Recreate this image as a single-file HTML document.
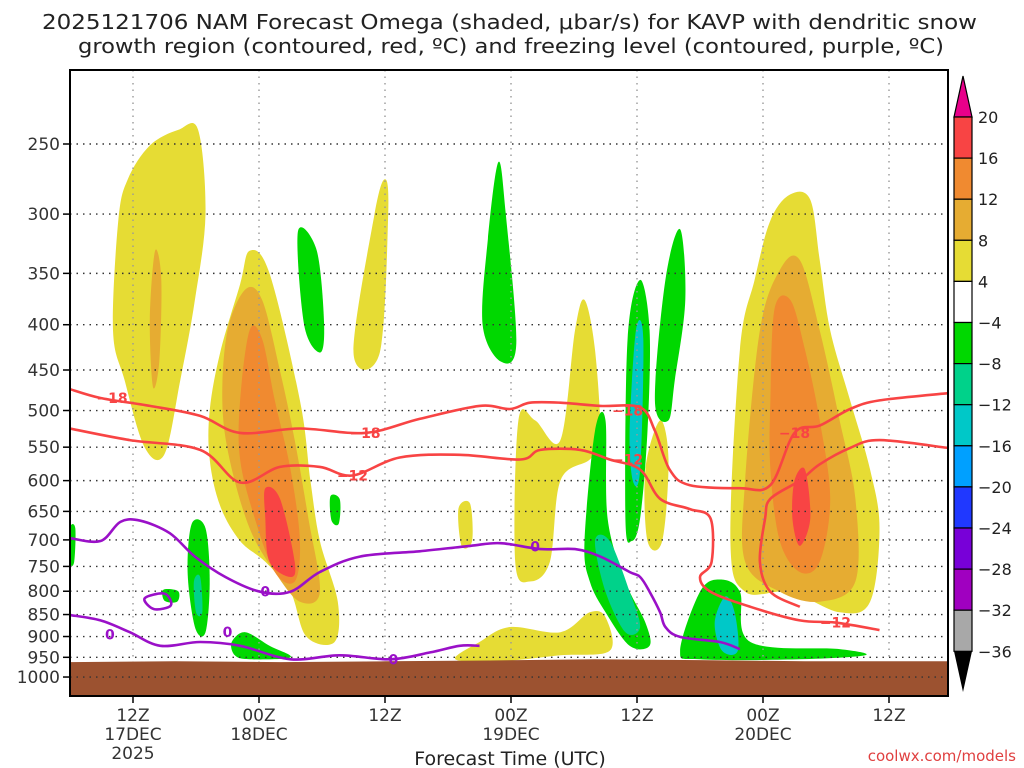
<!DOCTYPE html>
<html><head><meta charset="utf-8"><style>
html,body{margin:0;padding:0;background:#fff;}
svg{display:block;font-family:"DejaVu Sans","Liberation Sans",sans-serif;}
</style></head><body>
<svg id="chart" width="1024" height="768" viewBox="0 0 1024 768">
<g id="title">
<text x="42" y="29" textLength="935" lengthAdjust="spacingAndGlyphs" font-size="20" fill="#222">2025121706 NAM Forecast Omega (shaded, μbar/s) for KAVP with dendritic snow</text>
<text x="78" y="53" textLength="866" lengthAdjust="spacingAndGlyphs" font-size="20" fill="#222">growth region (contoured, red, ºC) and freezing level (contoured, purple, ºC)</text>
</g>
<defs><clipPath id="plotclip"><rect x="70" y="70" width="878" height="626"/></clipPath></defs>
<g id="shade" clip-path="url(#plotclip)"></g>
<g id="grid"></g>
<g id="ground" clip-path="url(#plotclip)"></g>
<g id="contours" clip-path="url(#plotclip)"></g>
<rect x="70" y="70" width="878" height="626" fill="none" stroke="#000" stroke-width="2"/>
<g id="yaxis"></g>
<g id="xaxis"></g>
<text x="510" y="765" text-anchor="middle" font-size="19" fill="#222">Forecast Time (UTC)</text>
<text x="1016" y="761" text-anchor="end" font-size="15" fill="#e04040">coolwx.com/models</text>
<g id="cbar"></g>
</svg>
<script>
// ---- data (hours since 06Z 17 Dec, pressure hPa) ----
const pressureTicks=[250,300,350,400,450,500,550,600,650,700,750,800,850,900,950,1000];
const timeTickHours=[6,18,30,42,54,66,78];
const timeTickLabels=[["12Z","17DEC","2025"],["00Z","18DEC"],["12Z"],["00Z","19DEC"],["12Z"],["00Z","20DEC"],["12Z"]];
const cbarLevels=["20","16","12","8","4","−4","−8","−12","−16","−20","−24","−28","−32","−36"];
const cbarColors=["#f84444","#f08a30","#e6ac32","#e6dc34","#ffffff","#00d800","#00d28a","#00c8c8","#00a0ff","#2038ff","#7800d8","#a000c0","#a8a8a8"];
const yellowBlobs=[
 [[4.1,406],[4.6,305],[5.5,274],[7.6,251],[10.3,241],[12.2,241],[12.9,300],[11.9,375],[10.5,462],[9,560],[7.1,550],[5.2,462]],
 [[13.3,500],[14.3,430],[16.2,360],[17.1,330],[19,350],[21.9,487],[22.9,600],[23.8,702],[25.5,822],[25.2,913],[22.5,900],[21,801],[18.6,741],[16.2,702],[14.3,641],[13.3,568]],
 [[27,430],[29,300],[30,274],[30.3,300],[29.5,430]],
 [[42.4,741],[42.7,513],[44.3,513],[46.7,540],[48.1,406],[49,375],[50,427],[50.5,540],[49.5,568],[46.7,600],[45.7,741],[43.8,780]],
 [[36.7,955],[39,913],[41.9,878],[46.7,890],[49.5,845],[51,856],[51.4,934],[46.7,945],[41,960]],
 [[37,645],[38.1,637],[38.3,702],[37.3,711]],
 [[54.8,583],[56.2,513],[57,568],[56.4,702],[55,702]],
 [[62.9,702],[63.8,427],[65.2,356],[66.7,305],[68.6,285],[70.5,289],[71.4,338],[72.4,406],[74.3,487],[76.2,583],[77.1,679],[76.2,822],[73.3,845],[68.6,801],[64.3,801]]
];
const goldBlobs=[
 [[7.6,394],[8.1,330],[8.7,356],[8.5,440],[7.9,470]],
 [[15,406],[16.7,365],[18.3,375],[20,451],[21.4,540],[22.7,662],[23.8,801],[21.9,822],[19.5,761],[17.1,679],[15.2,568],[14.5,487]],
 [[64.3,600],[65.7,406],[67.6,347],[69.5,338],[71.4,406],[73.3,513],[74.8,629],[74.8,780],[71.4,822],[67.6,801],[64.3,741]]
];
const orangeBlobs=[
 [[16.2,487],[17.1,406],[18.3,415],[19.5,487],[21,583],[21.9,702],[21.4,780],[19.5,761],[17.6,662],[16.2,568]],
 [[66.7,487],[67.1,384],[68.6,375],[70,427],[71.4,513],[72.4,629],[71.4,741],[69.5,761],[67.6,702],[66.7,583]]
];
const redBlobs=[
 [[18.6,612],[20,629],[21.4,741],[21,771],[19,741],[18.6,662]],
 [[69,600],[70,583],[70.5,662],[69.5,711],[68.8,662]]
];
const greenBlobs=[
 [[21.7,314],[23.5,330],[24.2,400],[23.8,430],[22.3,400]],
 [[39.3,400],[39.8,320],[40.8,262],[41.5,300],[42.5,420],[41,440]],
 [[52.9,662],[53.1,415],[54.3,356],[55.2,406],[55,527],[54.3,662],[53.5,702]],
 [[55.7,487],[56.7,356],[58.1,312],[58.6,375],[57.6,462],[57,513]],
 [[49,702],[50,527],[51,513],[51.2,662],[52.9,780],[54.8,868],[55.2,922],[53.3,922],[51,845],[49.5,780]],
 [[58.1,934],[60,801],[61.9,776],[63.8,801],[64.8,913],[73.3,930],[75.7,945],[69.5,955],[60,955]],
 [[11.2,761],[11.6,671],[12.9,679],[13.3,780],[12.9,890],[11.9,878]],
 [[15.4,913],[16.7,890],[19,922],[21,950],[17.1,955],[15.7,945]],
 [[0,679],[0.5,679],[0.4,741],[0,741]],
 [[24.8,625],[25.7,630],[25.6,671],[24.9,665]],
 [[8.9,797],[10.3,800],[10.2,822],[9,820]]
];
const tealBlobs=[
 [[50,702],[51.4,702],[53.3,801],[54.3,878],[52.9,890],[51,801]],
 [[11.8,780],[12.4,771],[12.6,845],[12,845]]
];
const cyanBlobs=[
 [[53.3,527],[53.9,406],[54.6,415],[54.3,583],[53.6,600]],
 [[61.4,868],[62.4,811],[63.3,845],[63.6,934],[62.1,934]]
];
const tempMinus18A=[[0,473],[2.9,484],[7.6,494],[12.4,507],[16.2,530],[21.9,524],[28.1,530],[33.3,511],[39,494],[41.9,498],[43.8,490],[46.7,490],[50.5,494],[54.3,496],[55.7,527],[57.1,583],[59,607],[63.8,612],[66.7,607],[69,530],[71.4,520],[74.3,498],[77.1,487],[83.6,478]];
const tempMinus12A=[[0,524],[5.7,540],[12.4,554],[16.2,603],[20,579],[23.8,579],[26.9,592],[31.4,565],[37.1,561],[42.9,568],[44.8,554],[48.6,554],[51.4,568],[54.3,583],[56.2,629],[59,646],[61,662],[61.1,741],[60,771],[61,801],[64.8,833],[69.5,863],[72.9,868],[77.1,885]];
const tempMinus12B=[[83.6,551],[77.1,540],[74.3,551],[71.4,575],[69.5,600],[66.7,629],[66.2,662],[65.7,741],[66.7,801],[69.5,833]];
const freezeA=[[0,697],[2.9,702],[4.8,668],[6.7,666],[9.5,688],[11.9,731],[14.8,771],[18.1,801],[21,801],[23.8,761],[27.6,731],[33.3,721],[38.1,711],[41,706],[44.8,717],[48.1,717],[50.5,731],[53.3,761],[54.3,771],[55.2,801],[56.2,845],[56.7,878],[58.1,901],[61.9,913],[63.8,930]];
const freezeB=[[0,851],[2.9,863],[5.7,890],[8.6,922],[12.4,913],[16.2,922],[21,955],[25.7,945],[30.5,955],[34.3,938],[37.1,922],[39,922]];
const freezeLoop=[[7.1,815],[9,805],[9.6,830],[8,838]];
const tempLabels=[["−18",4,484],["−18",28.1,530],["−18",53.1,500],["−18",69,530],["−12",26.9,592],["−12",53.1,568],["−12",72.9,868]];
const freezeLabels=[["0",18.6,801],["0",44.3,712],["0",15,890],["0",3.8,895],["0",30.8,955]];
const groundPressure=[[0,962],[10,960],[20,962],[30,960],[40,958],[50,955],[60,957],[70,960],[83.6,960]];

const X0=70,PXH=10.5,Y250=144,PXLN=384.5;
function xs(h){return X0+h*PXH;}
function ys(p){return Y250+Math.log(p/250)*PXLN;}
const NS="http://www.w3.org/2000/svg";
function mk(tag,attrs,parent){const e=document.createElementNS(NS,tag);for(const k in attrs)e.setAttribute(k,attrs[k]);parent.appendChild(e);return e;}
function smooth(pts,closed){
 const P=pts.map(d=>[xs(d[0]),ys(d[1])]);const n=P.length;let s="M"+P[0][0].toFixed(1)+","+P[0][1].toFixed(1);
 const last=closed?n:n-1;
 for(let i=0;i<last;i++){
  const p0=P[closed?(i-1+n)%n:Math.max(i-1,0)],p1=P[i],p2=P[(i+1)%n],p3=P[closed?(i+2)%n:Math.min(i+2,n-1)];
  const c1=[p1[0]+(p2[0]-p0[0])/6,p1[1]+(p2[1]-p0[1])/6],c2=[p2[0]-(p3[0]-p1[0])/6,p2[1]-(p3[1]-p1[1])/6];
  s+="C"+c1[0].toFixed(1)+","+c1[1].toFixed(1)+" "+c2[0].toFixed(1)+","+c2[1].toFixed(1)+" "+p2[0].toFixed(1)+","+p2[1].toFixed(1);
 }
 return s+(closed?"Z":"");
}
const shade=document.getElementById('shade');
function drawBlobs(list,color,name){list.forEach(b=>{
 const e=mk('path',{d:smooth(b,true),fill:color},shade);
 
 
});}
drawBlobs(yellowBlobs,"#e6dc34","omega-4-8");
drawBlobs(goldBlobs,"#e6ac32","omega-8-12");
drawBlobs(orangeBlobs,"#f08a30","omega-12-16");
drawBlobs(redBlobs,"#f84444","omega-16-20");
drawBlobs(greenBlobs,"#00d800","omega-neg4-8");
drawBlobs(tealBlobs,"#00d28a","omega-neg8-12");
drawBlobs(cyanBlobs,"#00c8c8","omega-neg12-16");

const grid=document.getElementById('grid'),yax=document.getElementById('yaxis'),xax=document.getElementById('xaxis');
pressureTicks.forEach(p=>{
 const y=ys(p);
 const l=mk('line',{x1:70,x2:948,y1:y,y2:y,stroke:"#333","stroke-width":1.4,"stroke-dasharray":"1.5 5"},grid);
 
 
 mk('line',{x1:63,x2:70,y1:y,y2:y,stroke:"#000","stroke-width":1.5},yax);
 const t=mk('text',{x:60,y:y+6,"text-anchor":"end","font-size":17,fill:"#333"},yax);
 t.textContent=p;
 
 
});
timeTickHours.forEach((h,i)=>{
 const x=xs(h);
 const l=mk('line',{x1:x,x2:x,y1:70,y2:696,stroke:"#999","stroke-width":1.4,"stroke-dasharray":"1.5 5"},grid);
 
 
 mk('line',{x1:x,x2:x,y1:696,y2:703,stroke:"#000","stroke-width":1.5},xax);
 timeTickLabels[i].forEach((s,j)=>{
  const t=mk('text',{x:x,y:721+j*19,"text-anchor":"middle","font-size":17,fill:"#333"},xax);
  t.textContent=s;
  
  
 });
});

const gpts=groundPressure.map(d=>xs(d[0]).toFixed(1)+","+ys(d[1]).toFixed(1)).join(" ");
const g=mk('polygon',{points:gpts+" 948,700 70,700",fill:"#9c5230"},document.getElementById('ground'));


pressureTicks.slice(-2).forEach(p=>{const y=ys(p);if(y>660){mk('line',{x1:70,x2:948,y1:y,y2:y,stroke:"#333","stroke-width":1.4,"stroke-dasharray":"1.5 5"},document.getElementById('ground'));}});

const cg=document.getElementById('contours');
function line(pts,color,name,closed){
 const e=mk('path',{d:smooth(pts,!!closed),fill:"none",stroke:color,"stroke-width":2.6},cg);
 
 
}
line(tempMinus18A,"#f84444","contour-minus18");
line(tempMinus12A,"#f84444","contour-minus12");
line(tempMinus12B,"#f84444","contour-minus12-east");
line(freezeA,"#9a10c8","freezing-level");
line(freezeB,"#9a10c8","freezing-level-low");
line(freezeLoop,"#9a10c8","freezing-level-loop",true);
function labels(list,color,name){list.forEach(d=>{
 const x=xs(d[1]),y=ys(d[2]);
 const t=mk('text',{x:x,y:y+5,"text-anchor":"middle","font-size":14,"font-weight":"bold",fill:color},cg);
 t.textContent=d[0];
 
 
});}
labels(tempLabels,"#f84444","temp-contour-label");
labels(freezeLabels,"#9a10c8","freezing-contour-label");

const cb=document.getElementById('cbar');
const CB_X=954,CB_W=18,CB_TOP=117,SEG=41.1;
mk('polygon',{points:`${CB_X},${CB_TOP} ${CB_X+CB_W},${CB_TOP} ${CB_X+CB_W/2},76`,fill:"#e8008a",stroke:"#000","stroke-width":1.2},cb);
cbarColors.forEach((c,i)=>{
 const r=mk('rect',{x:CB_X,y:CB_TOP+i*SEG,width:CB_W,height:SEG,fill:c,stroke:"#000","stroke-width":1.2},cb);
 
 
});
const bot=CB_TOP+cbarColors.length*SEG;
mk('polygon',{points:`${CB_X},${bot} ${CB_X+CB_W},${bot} ${CB_X+CB_W/2},692`,fill:"#000"},cb);
cbarLevels.forEach((s,i)=>{
 const t=mk('text',{x:978,y:CB_TOP+i*SEG+6,"font-size":16,fill:"#222"},cb);
 t.textContent=s;
 
 
});
</script>
</body></html>
